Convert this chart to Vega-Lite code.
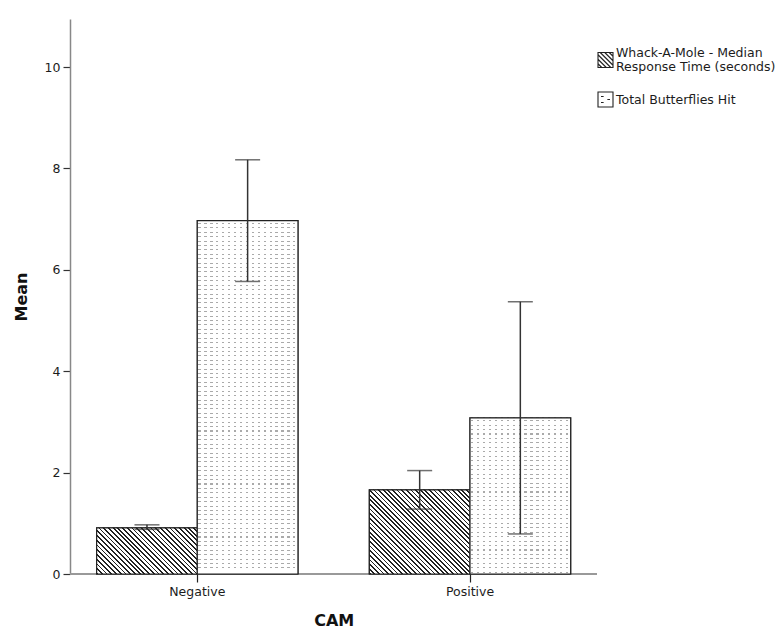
{
  "$schema": "https://vega.github.io/schema/vega-lite/v6.json",
  "width": 527,
  "height": 555,
  "autosize": "none",
  "padding": {"left": 70, "top": 19, "right": 184, "bottom": 56},
  "background": "white",
  "config": {
    "view": {"stroke": null},
    "axis": {"grid": false, "labelFont": "DejaVu Sans", "labelFontSize": 12.5, "labelColor": "#1c1c1c", "titleFont": "DejaVu Sans", "titleFontSize": 16, "titleFontWeight": "bold", "titleColor": "#111"}
  },
  "data": {"values": [
    {"CAM": "Negative", "series": "Whack-A-Mole - Median Response Time (seconds)", "mean": 0.91, "lo": 0.88, "hi": 0.97},
    {"CAM": "Negative", "series": "Total Butterflies Hit", "mean": 6.97, "lo": 5.77, "hi": 8.17},
    {"CAM": "Positive", "series": "Whack-A-Mole - Median Response Time (seconds)", "mean": 1.66, "lo": 1.28, "hi": 2.04},
    {"CAM": "Positive", "series": "Total Butterflies Hit", "mean": 3.08, "lo": 0.79, "hi": 5.37}
  ]},
  "encoding": {
    "x": {"field": "CAM", "type": "nominal", "title": "CAM",
      "scale": {"range": [-9.05, 536.35], "paddingInner": 0.2618, "paddingOuter": 0.1309},
      "axis": {"labelAngle": 0, "domain": false, "tickSize": 8, "tickColor": "#222", "tickWidth": 1.2, "labelPadding": 3, "titlePadding": 15}},
    "xOffset": {"field": "series", "type": "nominal",
      "scale": {"domain": ["Whack-A-Mole - Median Response Time (seconds)", "Total Butterflies Hit"], "paddingInner": 0, "paddingOuter": 0}}
  },
  "layer": [
    {
      "mark": {"type": "rule", "color": "#999", "strokeWidth": 1.5},
      "encoding": {"y": {"datum": 0, "type": "quantitative", "title": "Mean"}, "x": null, "xOffset": null}
    },
    {
      "mark": {"type": "bar", "stroke": "#222", "strokeWidth": 1.2, "fill": "#ffffff"},
      "encoding": {
        "y": {"field": "mean", "type": "quantitative", "title": "Mean",
          "scale": {"domain": [0, 10.947], "nice": false, "zero": true},
          "axis": {"values": [0, 2, 4, 6, 8, 10], "domainColor": "#888", "domainWidth": 1.5, "tickColor": "#333", "tickSize": 7, "tickWidth": 1.2, "labelPadding": 3, "titlePadding": 15}}
      }
    },
    {
      "transform": [{"filter": "datum.CAM == 'Negative' && datum.series != 'Total Butterflies Hit'"}],
      "mark": {"type": "bar", "stroke": "#222", "strokeWidth": 1.2,
        "fill": {"gradient": "linear", "x1": 0, "y1": 1, "x2": 1.2052, "y2": 0.4483, "stops": [
          {"offset": 0, "color": "#222"}, {"offset": 0.0123, "color": "#222"}, {"offset": 0.0123, "color": "#fff"}, {"offset": 0.0323, "color": "#fff"},
          {"offset": 0.0323, "color": "#222"}, {"offset": 0.0445, "color": "#222"}, {"offset": 0.0445, "color": "#fff"}, {"offset": 0.0645, "color": "#fff"},
          {"offset": 0.0645, "color": "#222"}, {"offset": 0.0768, "color": "#222"}, {"offset": 0.0768, "color": "#fff"}, {"offset": 0.0968, "color": "#fff"},
          {"offset": 0.0968, "color": "#222"}, {"offset": 0.109, "color": "#222"}, {"offset": 0.109, "color": "#fff"}, {"offset": 0.129, "color": "#fff"},
          {"offset": 0.129, "color": "#222"}, {"offset": 0.1413, "color": "#222"}, {"offset": 0.1413, "color": "#fff"}, {"offset": 0.1613, "color": "#fff"},
          {"offset": 0.1613, "color": "#222"}, {"offset": 0.1735, "color": "#222"}, {"offset": 0.1735, "color": "#fff"}, {"offset": 0.1935, "color": "#fff"},
          {"offset": 0.1935, "color": "#222"}, {"offset": 0.2058, "color": "#222"}, {"offset": 0.2058, "color": "#fff"}, {"offset": 0.2258, "color": "#fff"},
          {"offset": 0.2258, "color": "#222"}, {"offset": 0.2381, "color": "#222"}, {"offset": 0.2381, "color": "#fff"}, {"offset": 0.2581, "color": "#fff"},
          {"offset": 0.2581, "color": "#222"}, {"offset": 0.2703, "color": "#222"}, {"offset": 0.2703, "color": "#fff"}, {"offset": 0.2903, "color": "#fff"},
          {"offset": 0.2903, "color": "#222"}, {"offset": 0.3026, "color": "#222"}, {"offset": 0.3026, "color": "#fff"}, {"offset": 0.3226, "color": "#fff"},
          {"offset": 0.3226, "color": "#222"}, {"offset": 0.3348, "color": "#222"}, {"offset": 0.3348, "color": "#fff"}, {"offset": 0.3548, "color": "#fff"},
          {"offset": 0.3548, "color": "#222"}, {"offset": 0.3671, "color": "#222"}, {"offset": 0.3671, "color": "#fff"}, {"offset": 0.3871, "color": "#fff"},
          {"offset": 0.3871, "color": "#222"}, {"offset": 0.3994, "color": "#222"}, {"offset": 0.3994, "color": "#fff"}, {"offset": 0.4194, "color": "#fff"},
          {"offset": 0.4194, "color": "#222"}, {"offset": 0.4316, "color": "#222"}, {"offset": 0.4316, "color": "#fff"}, {"offset": 0.4516, "color": "#fff"},
          {"offset": 0.4516, "color": "#222"}, {"offset": 0.4639, "color": "#222"}, {"offset": 0.4639, "color": "#fff"}, {"offset": 0.4839, "color": "#fff"},
          {"offset": 0.4839, "color": "#222"}, {"offset": 0.4961, "color": "#222"}, {"offset": 0.4961, "color": "#fff"}, {"offset": 0.5161, "color": "#fff"},
          {"offset": 0.5161, "color": "#222"}, {"offset": 0.5284, "color": "#222"}, {"offset": 0.5284, "color": "#fff"}, {"offset": 0.5484, "color": "#fff"},
          {"offset": 0.5484, "color": "#222"}, {"offset": 0.5606, "color": "#222"}, {"offset": 0.5606, "color": "#fff"}, {"offset": 0.5806, "color": "#fff"},
          {"offset": 0.5806, "color": "#222"}, {"offset": 0.5929, "color": "#222"}, {"offset": 0.5929, "color": "#fff"}, {"offset": 0.6129, "color": "#fff"},
          {"offset": 0.6129, "color": "#222"}, {"offset": 0.6252, "color": "#222"}, {"offset": 0.6252, "color": "#fff"}, {"offset": 0.6452, "color": "#fff"},
          {"offset": 0.6452, "color": "#222"}, {"offset": 0.6574, "color": "#222"}, {"offset": 0.6574, "color": "#fff"}, {"offset": 0.6774, "color": "#fff"},
          {"offset": 0.6774, "color": "#222"}, {"offset": 0.6897, "color": "#222"}, {"offset": 0.6897, "color": "#fff"}, {"offset": 0.7097, "color": "#fff"},
          {"offset": 0.7097, "color": "#222"}, {"offset": 0.7219, "color": "#222"}, {"offset": 0.7219, "color": "#fff"}, {"offset": 0.7419, "color": "#fff"},
          {"offset": 0.7419, "color": "#222"}, {"offset": 0.7542, "color": "#222"}, {"offset": 0.7542, "color": "#fff"}, {"offset": 0.7742, "color": "#fff"},
          {"offset": 0.7742, "color": "#222"}, {"offset": 0.7865, "color": "#222"}, {"offset": 0.7865, "color": "#fff"}, {"offset": 0.8065, "color": "#fff"},
          {"offset": 0.8065, "color": "#222"}, {"offset": 0.8187, "color": "#222"}, {"offset": 0.8187, "color": "#fff"}, {"offset": 0.8387, "color": "#fff"},
          {"offset": 0.8387, "color": "#222"}, {"offset": 0.851, "color": "#222"}, {"offset": 0.851, "color": "#fff"}, {"offset": 0.871, "color": "#fff"},
          {"offset": 0.871, "color": "#222"}, {"offset": 0.8832, "color": "#222"}, {"offset": 0.8832, "color": "#fff"}, {"offset": 0.9032, "color": "#fff"},
          {"offset": 0.9032, "color": "#222"}, {"offset": 0.9155, "color": "#222"}, {"offset": 0.9155, "color": "#fff"}, {"offset": 0.9355, "color": "#fff"},
          {"offset": 0.9355, "color": "#222"}, {"offset": 0.9477, "color": "#222"}, {"offset": 0.9477, "color": "#fff"}, {"offset": 0.9677, "color": "#fff"},
          {"offset": 0.9677, "color": "#222"}, {"offset": 0.98, "color": "#222"}, {"offset": 0.98, "color": "#fff"}, {"offset": 1, "color": "#fff"}
        ]}},
      "encoding": {"y": {"field": "mean", "type": "quantitative", "title": "Mean"}}
    },
    {
      "transform": [{"filter": "datum.CAM == 'Positive' && datum.series != 'Total Butterflies Hit'"}],
      "mark": {"type": "bar", "stroke": "#222", "strokeWidth": 1.2,
        "fill": {"gradient": "linear", "x1": 0, "y1": 1, "x2": 1.0806, "y2": 0.0966, "stops": [
          {"offset": 0, "color": "#222"}, {"offset": 0.0095, "color": "#222"}, {"offset": 0.0095, "color": "#fff"}, {"offset": 0.025, "color": "#fff"},
          {"offset": 0.025, "color": "#222"}, {"offset": 0.0345, "color": "#222"}, {"offset": 0.0345, "color": "#fff"}, {"offset": 0.05, "color": "#fff"},
          {"offset": 0.05, "color": "#222"}, {"offset": 0.0595, "color": "#222"}, {"offset": 0.0595, "color": "#fff"}, {"offset": 0.075, "color": "#fff"},
          {"offset": 0.075, "color": "#222"}, {"offset": 0.0845, "color": "#222"}, {"offset": 0.0845, "color": "#fff"}, {"offset": 0.1, "color": "#fff"},
          {"offset": 0.1, "color": "#222"}, {"offset": 0.1095, "color": "#222"}, {"offset": 0.1095, "color": "#fff"}, {"offset": 0.125, "color": "#fff"},
          {"offset": 0.125, "color": "#222"}, {"offset": 0.1345, "color": "#222"}, {"offset": 0.1345, "color": "#fff"}, {"offset": 0.15, "color": "#fff"},
          {"offset": 0.15, "color": "#222"}, {"offset": 0.1595, "color": "#222"}, {"offset": 0.1595, "color": "#fff"}, {"offset": 0.175, "color": "#fff"},
          {"offset": 0.175, "color": "#222"}, {"offset": 0.1845, "color": "#222"}, {"offset": 0.1845, "color": "#fff"}, {"offset": 0.2, "color": "#fff"},
          {"offset": 0.2, "color": "#222"}, {"offset": 0.2095, "color": "#222"}, {"offset": 0.2095, "color": "#fff"}, {"offset": 0.225, "color": "#fff"},
          {"offset": 0.225, "color": "#222"}, {"offset": 0.2345, "color": "#222"}, {"offset": 0.2345, "color": "#fff"}, {"offset": 0.25, "color": "#fff"},
          {"offset": 0.25, "color": "#222"}, {"offset": 0.2595, "color": "#222"}, {"offset": 0.2595, "color": "#fff"}, {"offset": 0.275, "color": "#fff"},
          {"offset": 0.275, "color": "#222"}, {"offset": 0.2845, "color": "#222"}, {"offset": 0.2845, "color": "#fff"}, {"offset": 0.3, "color": "#fff"},
          {"offset": 0.3, "color": "#222"}, {"offset": 0.3095, "color": "#222"}, {"offset": 0.3095, "color": "#fff"}, {"offset": 0.325, "color": "#fff"},
          {"offset": 0.325, "color": "#222"}, {"offset": 0.3345, "color": "#222"}, {"offset": 0.3345, "color": "#fff"}, {"offset": 0.35, "color": "#fff"},
          {"offset": 0.35, "color": "#222"}, {"offset": 0.3595, "color": "#222"}, {"offset": 0.3595, "color": "#fff"}, {"offset": 0.375, "color": "#fff"},
          {"offset": 0.375, "color": "#222"}, {"offset": 0.3845, "color": "#222"}, {"offset": 0.3845, "color": "#fff"}, {"offset": 0.4, "color": "#fff"},
          {"offset": 0.4, "color": "#222"}, {"offset": 0.4095, "color": "#222"}, {"offset": 0.4095, "color": "#fff"}, {"offset": 0.425, "color": "#fff"},
          {"offset": 0.425, "color": "#222"}, {"offset": 0.4345, "color": "#222"}, {"offset": 0.4345, "color": "#fff"}, {"offset": 0.45, "color": "#fff"},
          {"offset": 0.45, "color": "#222"}, {"offset": 0.4595, "color": "#222"}, {"offset": 0.4595, "color": "#fff"}, {"offset": 0.475, "color": "#fff"},
          {"offset": 0.475, "color": "#222"}, {"offset": 0.4845, "color": "#222"}, {"offset": 0.4845, "color": "#fff"}, {"offset": 0.5, "color": "#fff"},
          {"offset": 0.5, "color": "#222"}, {"offset": 0.5095, "color": "#222"}, {"offset": 0.5095, "color": "#fff"}, {"offset": 0.525, "color": "#fff"},
          {"offset": 0.525, "color": "#222"}, {"offset": 0.5345, "color": "#222"}, {"offset": 0.5345, "color": "#fff"}, {"offset": 0.55, "color": "#fff"},
          {"offset": 0.55, "color": "#222"}, {"offset": 0.5595, "color": "#222"}, {"offset": 0.5595, "color": "#fff"}, {"offset": 0.575, "color": "#fff"},
          {"offset": 0.575, "color": "#222"}, {"offset": 0.5845, "color": "#222"}, {"offset": 0.5845, "color": "#fff"}, {"offset": 0.6, "color": "#fff"},
          {"offset": 0.6, "color": "#222"}, {"offset": 0.6095, "color": "#222"}, {"offset": 0.6095, "color": "#fff"}, {"offset": 0.625, "color": "#fff"},
          {"offset": 0.625, "color": "#222"}, {"offset": 0.6345, "color": "#222"}, {"offset": 0.6345, "color": "#fff"}, {"offset": 0.65, "color": "#fff"},
          {"offset": 0.65, "color": "#222"}, {"offset": 0.6595, "color": "#222"}, {"offset": 0.6595, "color": "#fff"}, {"offset": 0.675, "color": "#fff"},
          {"offset": 0.675, "color": "#222"}, {"offset": 0.6845, "color": "#222"}, {"offset": 0.6845, "color": "#fff"}, {"offset": 0.7, "color": "#fff"},
          {"offset": 0.7, "color": "#222"}, {"offset": 0.7095, "color": "#222"}, {"offset": 0.7095, "color": "#fff"}, {"offset": 0.725, "color": "#fff"},
          {"offset": 0.725, "color": "#222"}, {"offset": 0.7345, "color": "#222"}, {"offset": 0.7345, "color": "#fff"}, {"offset": 0.75, "color": "#fff"},
          {"offset": 0.75, "color": "#222"}, {"offset": 0.7595, "color": "#222"}, {"offset": 0.7595, "color": "#fff"}, {"offset": 0.775, "color": "#fff"},
          {"offset": 0.775, "color": "#222"}, {"offset": 0.7845, "color": "#222"}, {"offset": 0.7845, "color": "#fff"}, {"offset": 0.8, "color": "#fff"},
          {"offset": 0.8, "color": "#222"}, {"offset": 0.8095, "color": "#222"}, {"offset": 0.8095, "color": "#fff"}, {"offset": 0.825, "color": "#fff"},
          {"offset": 0.825, "color": "#222"}, {"offset": 0.8345, "color": "#222"}, {"offset": 0.8345, "color": "#fff"}, {"offset": 0.85, "color": "#fff"},
          {"offset": 0.85, "color": "#222"}, {"offset": 0.8595, "color": "#222"}, {"offset": 0.8595, "color": "#fff"}, {"offset": 0.875, "color": "#fff"},
          {"offset": 0.875, "color": "#222"}, {"offset": 0.8845, "color": "#222"}, {"offset": 0.8845, "color": "#fff"}, {"offset": 0.9, "color": "#fff"},
          {"offset": 0.9, "color": "#222"}, {"offset": 0.9095, "color": "#222"}, {"offset": 0.9095, "color": "#fff"}, {"offset": 0.925, "color": "#fff"},
          {"offset": 0.925, "color": "#222"}, {"offset": 0.9345, "color": "#222"}, {"offset": 0.9345, "color": "#fff"}, {"offset": 0.95, "color": "#fff"},
          {"offset": 0.95, "color": "#222"}, {"offset": 0.9595, "color": "#222"}, {"offset": 0.9595, "color": "#fff"}, {"offset": 0.975, "color": "#fff"},
          {"offset": 0.975, "color": "#222"}, {"offset": 0.9845, "color": "#222"}, {"offset": 0.9845, "color": "#fff"}, {"offset": 1, "color": "#fff"}
        ]}},
      "encoding": {"y": {"field": "mean", "type": "quantitative", "title": "Mean"}}
    },
    {
      "transform": [{"filter": "datum.CAM == 'Negative' && datum.series == 'Total Butterflies Hit'"}],
      "mark": {"type": "bar",
        "fill": {"gradient": "linear", "x1": 0, "y1": 0, "x2": 0, "y2": 1, "stops": [
          {"offset":0.00625,"color":"#fff"},{"offset":0.00625,"color":"#aaa"},{"offset":0.00925,"color":"#aaa"},{"offset":0.00925,"color":"#fff"},
          {"offset":0.01875,"color":"#fff"},{"offset":0.01875,"color":"#aaa"},{"offset":0.02175,"color":"#aaa"},{"offset":0.02175,"color":"#fff"},
          {"offset":0.03125,"color":"#fff"},{"offset":0.03125,"color":"#aaa"},{"offset":0.03425,"color":"#aaa"},{"offset":0.03425,"color":"#fff"},
          {"offset":0.04375,"color":"#fff"},{"offset":0.04375,"color":"#aaa"},{"offset":0.04675,"color":"#aaa"},{"offset":0.04675,"color":"#fff"},
          {"offset":0.05625,"color":"#fff"},{"offset":0.05625,"color":"#aaa"},{"offset":0.05925,"color":"#aaa"},{"offset":0.05925,"color":"#fff"},
          {"offset":0.06875,"color":"#fff"},{"offset":0.06875,"color":"#aaa"},{"offset":0.07175,"color":"#aaa"},{"offset":0.07175,"color":"#fff"},
          {"offset":0.08125,"color":"#fff"},{"offset":0.08125,"color":"#aaa"},{"offset":0.08425,"color":"#aaa"},{"offset":0.08425,"color":"#fff"},
          {"offset":0.09375,"color":"#fff"},{"offset":0.09375,"color":"#aaa"},{"offset":0.09675,"color":"#aaa"},{"offset":0.09675,"color":"#fff"},
          {"offset":0.10625,"color":"#fff"},{"offset":0.10625,"color":"#aaa"},{"offset":0.10925,"color":"#aaa"},{"offset":0.10925,"color":"#fff"},
          {"offset":0.11875,"color":"#fff"},{"offset":0.11875,"color":"#aaa"},{"offset":0.12175,"color":"#aaa"},{"offset":0.12175,"color":"#fff"},
          {"offset":0.13125,"color":"#fff"},{"offset":0.13125,"color":"#aaa"},{"offset":0.13425,"color":"#aaa"},{"offset":0.13425,"color":"#fff"},
          {"offset":0.14375,"color":"#fff"},{"offset":0.14375,"color":"#aaa"},{"offset":0.14675,"color":"#aaa"},{"offset":0.14675,"color":"#fff"},
          {"offset":0.15625,"color":"#fff"},{"offset":0.15625,"color":"#aaa"},{"offset":0.15925,"color":"#aaa"},{"offset":0.15925,"color":"#fff"},
          {"offset":0.16875,"color":"#fff"},{"offset":0.16875,"color":"#aaa"},{"offset":0.17175,"color":"#aaa"},{"offset":0.17175,"color":"#fff"},
          {"offset":0.18125,"color":"#fff"},{"offset":0.18125,"color":"#aaa"},{"offset":0.18425,"color":"#aaa"},{"offset":0.18425,"color":"#fff"},
          {"offset":0.19375,"color":"#fff"},{"offset":0.19375,"color":"#aaa"},{"offset":0.19675,"color":"#aaa"},{"offset":0.19675,"color":"#fff"},
          {"offset":0.20625,"color":"#fff"},{"offset":0.20625,"color":"#aaa"},{"offset":0.20925,"color":"#aaa"},{"offset":0.20925,"color":"#fff"},
          {"offset":0.21875,"color":"#fff"},{"offset":0.21875,"color":"#aaa"},{"offset":0.22175,"color":"#aaa"},{"offset":0.22175,"color":"#fff"},
          {"offset":0.23125,"color":"#fff"},{"offset":0.23125,"color":"#aaa"},{"offset":0.23425,"color":"#aaa"},{"offset":0.23425,"color":"#fff"},
          {"offset":0.24375,"color":"#fff"},{"offset":0.24375,"color":"#aaa"},{"offset":0.24675,"color":"#aaa"},{"offset":0.24675,"color":"#fff"},
          {"offset":0.25625,"color":"#fff"},{"offset":0.25625,"color":"#aaa"},{"offset":0.25925,"color":"#aaa"},{"offset":0.25925,"color":"#fff"},
          {"offset":0.26875,"color":"#fff"},{"offset":0.26875,"color":"#aaa"},{"offset":0.27175,"color":"#aaa"},{"offset":0.27175,"color":"#fff"},
          {"offset":0.28125,"color":"#fff"},{"offset":0.28125,"color":"#aaa"},{"offset":0.28425,"color":"#aaa"},{"offset":0.28425,"color":"#fff"},
          {"offset":0.29375,"color":"#fff"},{"offset":0.29375,"color":"#aaa"},{"offset":0.29675,"color":"#aaa"},{"offset":0.29675,"color":"#fff"},
          {"offset":0.30625,"color":"#fff"},{"offset":0.30625,"color":"#aaa"},{"offset":0.30925,"color":"#aaa"},{"offset":0.30925,"color":"#fff"},
          {"offset":0.31875,"color":"#fff"},{"offset":0.31875,"color":"#aaa"},{"offset":0.32175,"color":"#aaa"},{"offset":0.32175,"color":"#fff"},
          {"offset":0.33125,"color":"#fff"},{"offset":0.33125,"color":"#aaa"},{"offset":0.33425,"color":"#aaa"},{"offset":0.33425,"color":"#fff"},
          {"offset":0.34375,"color":"#fff"},{"offset":0.34375,"color":"#aaa"},{"offset":0.34675,"color":"#aaa"},{"offset":0.34675,"color":"#fff"},
          {"offset":0.35625,"color":"#fff"},{"offset":0.35625,"color":"#aaa"},{"offset":0.35925,"color":"#aaa"},{"offset":0.35925,"color":"#fff"},
          {"offset":0.36875,"color":"#fff"},{"offset":0.36875,"color":"#aaa"},{"offset":0.37175,"color":"#aaa"},{"offset":0.37175,"color":"#fff"},
          {"offset":0.38125,"color":"#fff"},{"offset":0.38125,"color":"#aaa"},{"offset":0.38425,"color":"#aaa"},{"offset":0.38425,"color":"#fff"},
          {"offset":0.39375,"color":"#fff"},{"offset":0.39375,"color":"#aaa"},{"offset":0.39675,"color":"#aaa"},{"offset":0.39675,"color":"#fff"},
          {"offset":0.40625,"color":"#fff"},{"offset":0.40625,"color":"#aaa"},{"offset":0.40925,"color":"#aaa"},{"offset":0.40925,"color":"#fff"},
          {"offset":0.41875,"color":"#fff"},{"offset":0.41875,"color":"#aaa"},{"offset":0.42175,"color":"#aaa"},{"offset":0.42175,"color":"#fff"},
          {"offset":0.43125,"color":"#fff"},{"offset":0.43125,"color":"#aaa"},{"offset":0.43425,"color":"#aaa"},{"offset":0.43425,"color":"#fff"},
          {"offset":0.44375,"color":"#fff"},{"offset":0.44375,"color":"#aaa"},{"offset":0.44675,"color":"#aaa"},{"offset":0.44675,"color":"#fff"},
          {"offset":0.45625,"color":"#fff"},{"offset":0.45625,"color":"#aaa"},{"offset":0.45925,"color":"#aaa"},{"offset":0.45925,"color":"#fff"},
          {"offset":0.46875,"color":"#fff"},{"offset":0.46875,"color":"#aaa"},{"offset":0.47175,"color":"#aaa"},{"offset":0.47175,"color":"#fff"},
          {"offset":0.48125,"color":"#fff"},{"offset":0.48125,"color":"#aaa"},{"offset":0.48425,"color":"#aaa"},{"offset":0.48425,"color":"#fff"},
          {"offset":0.49375,"color":"#fff"},{"offset":0.49375,"color":"#aaa"},{"offset":0.49675,"color":"#aaa"},{"offset":0.49675,"color":"#fff"},
          {"offset":0.50625,"color":"#fff"},{"offset":0.50625,"color":"#aaa"},{"offset":0.50925,"color":"#aaa"},{"offset":0.50925,"color":"#fff"},
          {"offset":0.51875,"color":"#fff"},{"offset":0.51875,"color":"#aaa"},{"offset":0.52175,"color":"#aaa"},{"offset":0.52175,"color":"#fff"},
          {"offset":0.53125,"color":"#fff"},{"offset":0.53125,"color":"#aaa"},{"offset":0.53425,"color":"#aaa"},{"offset":0.53425,"color":"#fff"},
          {"offset":0.54375,"color":"#fff"},{"offset":0.54375,"color":"#aaa"},{"offset":0.54675,"color":"#aaa"},{"offset":0.54675,"color":"#fff"},
          {"offset":0.55625,"color":"#fff"},{"offset":0.55625,"color":"#aaa"},{"offset":0.55925,"color":"#aaa"},{"offset":0.55925,"color":"#fff"},
          {"offset":0.56875,"color":"#fff"},{"offset":0.56875,"color":"#aaa"},{"offset":0.57175,"color":"#aaa"},{"offset":0.57175,"color":"#fff"},
          {"offset":0.58125,"color":"#fff"},{"offset":0.58125,"color":"#aaa"},{"offset":0.58425,"color":"#aaa"},{"offset":0.58425,"color":"#fff"},
          {"offset":0.59375,"color":"#fff"},{"offset":0.59375,"color":"#aaa"},{"offset":0.59675,"color":"#aaa"},{"offset":0.59675,"color":"#fff"},
          {"offset":0.60625,"color":"#fff"},{"offset":0.60625,"color":"#aaa"},{"offset":0.60925,"color":"#aaa"},{"offset":0.60925,"color":"#fff"},
          {"offset":0.61875,"color":"#fff"},{"offset":0.61875,"color":"#aaa"},{"offset":0.62175,"color":"#aaa"},{"offset":0.62175,"color":"#fff"},
          {"offset":0.63125,"color":"#fff"},{"offset":0.63125,"color":"#aaa"},{"offset":0.63425,"color":"#aaa"},{"offset":0.63425,"color":"#fff"},
          {"offset":0.64375,"color":"#fff"},{"offset":0.64375,"color":"#aaa"},{"offset":0.64675,"color":"#aaa"},{"offset":0.64675,"color":"#fff"},
          {"offset":0.65625,"color":"#fff"},{"offset":0.65625,"color":"#aaa"},{"offset":0.65925,"color":"#aaa"},{"offset":0.65925,"color":"#fff"},
          {"offset":0.66875,"color":"#fff"},{"offset":0.66875,"color":"#aaa"},{"offset":0.67175,"color":"#aaa"},{"offset":0.67175,"color":"#fff"},
          {"offset":0.68125,"color":"#fff"},{"offset":0.68125,"color":"#aaa"},{"offset":0.68425,"color":"#aaa"},{"offset":0.68425,"color":"#fff"},
          {"offset":0.69375,"color":"#fff"},{"offset":0.69375,"color":"#aaa"},{"offset":0.69675,"color":"#aaa"},{"offset":0.69675,"color":"#fff"},
          {"offset":0.70625,"color":"#fff"},{"offset":0.70625,"color":"#aaa"},{"offset":0.70925,"color":"#aaa"},{"offset":0.70925,"color":"#fff"},
          {"offset":0.71875,"color":"#fff"},{"offset":0.71875,"color":"#aaa"},{"offset":0.72175,"color":"#aaa"},{"offset":0.72175,"color":"#fff"},
          {"offset":0.73125,"color":"#fff"},{"offset":0.73125,"color":"#aaa"},{"offset":0.73425,"color":"#aaa"},{"offset":0.73425,"color":"#fff"},
          {"offset":0.74375,"color":"#fff"},{"offset":0.74375,"color":"#aaa"},{"offset":0.74675,"color":"#aaa"},{"offset":0.74675,"color":"#fff"},
          {"offset":0.75625,"color":"#fff"},{"offset":0.75625,"color":"#aaa"},{"offset":0.75925,"color":"#aaa"},{"offset":0.75925,"color":"#fff"},
          {"offset":0.76875,"color":"#fff"},{"offset":0.76875,"color":"#aaa"},{"offset":0.77175,"color":"#aaa"},{"offset":0.77175,"color":"#fff"},
          {"offset":0.78125,"color":"#fff"},{"offset":0.78125,"color":"#aaa"},{"offset":0.78425,"color":"#aaa"},{"offset":0.78425,"color":"#fff"},
          {"offset":0.79375,"color":"#fff"},{"offset":0.79375,"color":"#aaa"},{"offset":0.79675,"color":"#aaa"},{"offset":0.79675,"color":"#fff"},
          {"offset":0.80625,"color":"#fff"},{"offset":0.80625,"color":"#aaa"},{"offset":0.80925,"color":"#aaa"},{"offset":0.80925,"color":"#fff"},
          {"offset":0.81875,"color":"#fff"},{"offset":0.81875,"color":"#aaa"},{"offset":0.82175,"color":"#aaa"},{"offset":0.82175,"color":"#fff"},
          {"offset":0.83125,"color":"#fff"},{"offset":0.83125,"color":"#aaa"},{"offset":0.83425,"color":"#aaa"},{"offset":0.83425,"color":"#fff"},
          {"offset":0.84375,"color":"#fff"},{"offset":0.84375,"color":"#aaa"},{"offset":0.84675,"color":"#aaa"},{"offset":0.84675,"color":"#fff"},
          {"offset":0.85625,"color":"#fff"},{"offset":0.85625,"color":"#aaa"},{"offset":0.85925,"color":"#aaa"},{"offset":0.85925,"color":"#fff"},
          {"offset":0.86875,"color":"#fff"},{"offset":0.86875,"color":"#aaa"},{"offset":0.87175,"color":"#aaa"},{"offset":0.87175,"color":"#fff"},
          {"offset":0.88125,"color":"#fff"},{"offset":0.88125,"color":"#aaa"},{"offset":0.88425,"color":"#aaa"},{"offset":0.88425,"color":"#fff"},
          {"offset":0.89375,"color":"#fff"},{"offset":0.89375,"color":"#aaa"},{"offset":0.89675,"color":"#aaa"},{"offset":0.89675,"color":"#fff"},
          {"offset":0.90625,"color":"#fff"},{"offset":0.90625,"color":"#aaa"},{"offset":0.90925,"color":"#aaa"},{"offset":0.90925,"color":"#fff"},
          {"offset":0.91875,"color":"#fff"},{"offset":0.91875,"color":"#aaa"},{"offset":0.92175,"color":"#aaa"},{"offset":0.92175,"color":"#fff"},
          {"offset":0.93125,"color":"#fff"},{"offset":0.93125,"color":"#aaa"},{"offset":0.93425,"color":"#aaa"},{"offset":0.93425,"color":"#fff"},
          {"offset":0.94375,"color":"#fff"},{"offset":0.94375,"color":"#aaa"},{"offset":0.94675,"color":"#aaa"},{"offset":0.94675,"color":"#fff"},
          {"offset":0.95625,"color":"#fff"},{"offset":0.95625,"color":"#aaa"},{"offset":0.95925,"color":"#aaa"},{"offset":0.95925,"color":"#fff"},
          {"offset":0.96875,"color":"#fff"},{"offset":0.96875,"color":"#aaa"},{"offset":0.97175,"color":"#aaa"},{"offset":0.97175,"color":"#fff"},
          {"offset":0.98125,"color":"#fff"},{"offset":0.98125,"color":"#aaa"},{"offset":0.98425,"color":"#aaa"},{"offset":0.98425,"color":"#fff"}
        ]}},
      "encoding": {"y": {"field": "mean", "type": "quantitative", "title": "Mean"}}
    },
    {
      "transform": [{"filter": "datum.CAM == 'Positive' && datum.series == 'Total Butterflies Hit'"}],
      "mark": {"type": "bar",
        "fill": {"gradient": "linear", "x1": 0, "y1": 0, "x2": 0, "y2": 1, "stops": [
          {"offset":0.0143,"color":"#fff"},{"offset":0.0143,"color":"#aaa"},{"offset":0.0213,"color":"#aaa"},{"offset":0.0213,"color":"#fff"},
          {"offset":0.0429,"color":"#fff"},{"offset":0.0429,"color":"#aaa"},{"offset":0.0499,"color":"#aaa"},{"offset":0.0499,"color":"#fff"},
          {"offset":0.0714,"color":"#fff"},{"offset":0.0714,"color":"#aaa"},{"offset":0.0784,"color":"#aaa"},{"offset":0.0784,"color":"#fff"},
          {"offset":0.1,"color":"#fff"},{"offset":0.1,"color":"#aaa"},{"offset":0.107,"color":"#aaa"},{"offset":0.107,"color":"#fff"},
          {"offset":0.1286,"color":"#fff"},{"offset":0.1286,"color":"#aaa"},{"offset":0.1356,"color":"#aaa"},{"offset":0.1356,"color":"#fff"},
          {"offset":0.1571,"color":"#fff"},{"offset":0.1571,"color":"#aaa"},{"offset":0.1641,"color":"#aaa"},{"offset":0.1641,"color":"#fff"},
          {"offset":0.1857,"color":"#fff"},{"offset":0.1857,"color":"#aaa"},{"offset":0.1927,"color":"#aaa"},{"offset":0.1927,"color":"#fff"},
          {"offset":0.2143,"color":"#fff"},{"offset":0.2143,"color":"#aaa"},{"offset":0.2213,"color":"#aaa"},{"offset":0.2213,"color":"#fff"},
          {"offset":0.2429,"color":"#fff"},{"offset":0.2429,"color":"#aaa"},{"offset":0.2499,"color":"#aaa"},{"offset":0.2499,"color":"#fff"},
          {"offset":0.2714,"color":"#fff"},{"offset":0.2714,"color":"#aaa"},{"offset":0.2784,"color":"#aaa"},{"offset":0.2784,"color":"#fff"},
          {"offset":0.3,"color":"#fff"},{"offset":0.3,"color":"#aaa"},{"offset":0.307,"color":"#aaa"},{"offset":0.307,"color":"#fff"},
          {"offset":0.3286,"color":"#fff"},{"offset":0.3286,"color":"#aaa"},{"offset":0.3356,"color":"#aaa"},{"offset":0.3356,"color":"#fff"},
          {"offset":0.3571,"color":"#fff"},{"offset":0.3571,"color":"#aaa"},{"offset":0.3641,"color":"#aaa"},{"offset":0.3641,"color":"#fff"},
          {"offset":0.3857,"color":"#fff"},{"offset":0.3857,"color":"#aaa"},{"offset":0.3927,"color":"#aaa"},{"offset":0.3927,"color":"#fff"},
          {"offset":0.4143,"color":"#fff"},{"offset":0.4143,"color":"#aaa"},{"offset":0.4213,"color":"#aaa"},{"offset":0.4213,"color":"#fff"},
          {"offset":0.4429,"color":"#fff"},{"offset":0.4429,"color":"#aaa"},{"offset":0.4499,"color":"#aaa"},{"offset":0.4499,"color":"#fff"},
          {"offset":0.4714,"color":"#fff"},{"offset":0.4714,"color":"#aaa"},{"offset":0.4784,"color":"#aaa"},{"offset":0.4784,"color":"#fff"},
          {"offset":0.5,"color":"#fff"},{"offset":0.5,"color":"#aaa"},{"offset":0.507,"color":"#aaa"},{"offset":0.507,"color":"#fff"},
          {"offset":0.5286,"color":"#fff"},{"offset":0.5286,"color":"#aaa"},{"offset":0.5356,"color":"#aaa"},{"offset":0.5356,"color":"#fff"},
          {"offset":0.5571,"color":"#fff"},{"offset":0.5571,"color":"#aaa"},{"offset":0.5641,"color":"#aaa"},{"offset":0.5641,"color":"#fff"},
          {"offset":0.5857,"color":"#fff"},{"offset":0.5857,"color":"#aaa"},{"offset":0.5927,"color":"#aaa"},{"offset":0.5927,"color":"#fff"},
          {"offset":0.6143,"color":"#fff"},{"offset":0.6143,"color":"#aaa"},{"offset":0.6213,"color":"#aaa"},{"offset":0.6213,"color":"#fff"},
          {"offset":0.6429,"color":"#fff"},{"offset":0.6429,"color":"#aaa"},{"offset":0.6499,"color":"#aaa"},{"offset":0.6499,"color":"#fff"},
          {"offset":0.6714,"color":"#fff"},{"offset":0.6714,"color":"#aaa"},{"offset":0.6784,"color":"#aaa"},{"offset":0.6784,"color":"#fff"},
          {"offset":0.7,"color":"#fff"},{"offset":0.7,"color":"#aaa"},{"offset":0.707,"color":"#aaa"},{"offset":0.707,"color":"#fff"},
          {"offset":0.7286,"color":"#fff"},{"offset":0.7286,"color":"#aaa"},{"offset":0.7356,"color":"#aaa"},{"offset":0.7356,"color":"#fff"},
          {"offset":0.7571,"color":"#fff"},{"offset":0.7571,"color":"#aaa"},{"offset":0.7641,"color":"#aaa"},{"offset":0.7641,"color":"#fff"},
          {"offset":0.7857,"color":"#fff"},{"offset":0.7857,"color":"#aaa"},{"offset":0.7927,"color":"#aaa"},{"offset":0.7927,"color":"#fff"},
          {"offset":0.8143,"color":"#fff"},{"offset":0.8143,"color":"#aaa"},{"offset":0.8213,"color":"#aaa"},{"offset":0.8213,"color":"#fff"},
          {"offset":0.8429,"color":"#fff"},{"offset":0.8429,"color":"#aaa"},{"offset":0.8499,"color":"#aaa"},{"offset":0.8499,"color":"#fff"},
          {"offset":0.8714,"color":"#fff"},{"offset":0.8714,"color":"#aaa"},{"offset":0.8784,"color":"#aaa"},{"offset":0.8784,"color":"#fff"},
          {"offset":0.9,"color":"#fff"},{"offset":0.9,"color":"#aaa"},{"offset":0.907,"color":"#aaa"},{"offset":0.907,"color":"#fff"},
          {"offset":0.9286,"color":"#fff"},{"offset":0.9286,"color":"#aaa"},{"offset":0.9356,"color":"#aaa"},{"offset":0.9356,"color":"#fff"},
          {"offset":0.9571,"color":"#fff"},{"offset":0.9571,"color":"#aaa"},{"offset":0.9641,"color":"#aaa"},{"offset":0.9641,"color":"#fff"},
          {"offset":0.9857,"color":"#fff"},{"offset":0.9857,"color":"#aaa"},{"offset":0.9927,"color":"#aaa"},{"offset":0.9927,"color":"#fff"}
        ]}},
      "encoding": {"y": {"field": "mean", "type": "quantitative", "title": "Mean"}}
    },
    {
      "transform": [{"filter": "datum.series == 'Total Butterflies Hit'"}],
      "mark": {"type": "bar", "stroke": "#222", "strokeWidth": 1.2,
        "fill": {"gradient": "linear", "x1": 0, "y1": 0, "x2": 1, "y2": 0, "stops": [
          {"offset":0.0118,"color":"#fff"},{"offset":0.0118,"color":"#fff0"},{"offset":0.0338,"color":"#fff0"},{"offset":0.0338,"color":"#fff"},
          {"offset":0.0706,"color":"#fff"},{"offset":0.0706,"color":"#fff0"},{"offset":0.0926,"color":"#fff0"},{"offset":0.0926,"color":"#fff"},
          {"offset":0.1294,"color":"#fff"},{"offset":0.1294,"color":"#fff0"},{"offset":0.1514,"color":"#fff0"},{"offset":0.1514,"color":"#fff"},
          {"offset":0.1882,"color":"#fff"},{"offset":0.1882,"color":"#fff0"},{"offset":0.2102,"color":"#fff0"},{"offset":0.2102,"color":"#fff"},
          {"offset":0.2471,"color":"#fff"},{"offset":0.2471,"color":"#fff0"},{"offset":0.2691,"color":"#fff0"},{"offset":0.2691,"color":"#fff"},
          {"offset":0.3059,"color":"#fff"},{"offset":0.3059,"color":"#fff0"},{"offset":0.3279,"color":"#fff0"},{"offset":0.3279,"color":"#fff"},
          {"offset":0.3647,"color":"#fff"},{"offset":0.3647,"color":"#fff0"},{"offset":0.3867,"color":"#fff0"},{"offset":0.3867,"color":"#fff"},
          {"offset":0.4235,"color":"#fff"},{"offset":0.4235,"color":"#fff0"},{"offset":0.4455,"color":"#fff0"},{"offset":0.4455,"color":"#fff"},
          {"offset":0.4824,"color":"#fff"},{"offset":0.4824,"color":"#fff0"},{"offset":0.5044,"color":"#fff0"},{"offset":0.5044,"color":"#fff"},
          {"offset":0.5412,"color":"#fff"},{"offset":0.5412,"color":"#fff0"},{"offset":0.5632,"color":"#fff0"},{"offset":0.5632,"color":"#fff"},
          {"offset":0.6,"color":"#fff"},{"offset":0.6,"color":"#fff0"},{"offset":0.622,"color":"#fff0"},{"offset":0.622,"color":"#fff"},
          {"offset":0.6588,"color":"#fff"},{"offset":0.6588,"color":"#fff0"},{"offset":0.6808,"color":"#fff0"},{"offset":0.6808,"color":"#fff"},
          {"offset":0.7176,"color":"#fff"},{"offset":0.7176,"color":"#fff0"},{"offset":0.7396,"color":"#fff0"},{"offset":0.7396,"color":"#fff"},
          {"offset":0.7765,"color":"#fff"},{"offset":0.7765,"color":"#fff0"},{"offset":0.7985,"color":"#fff0"},{"offset":0.7985,"color":"#fff"},
          {"offset":0.8353,"color":"#fff"},{"offset":0.8353,"color":"#fff0"},{"offset":0.8573,"color":"#fff0"},{"offset":0.8573,"color":"#fff"},
          {"offset":0.8941,"color":"#fff"},{"offset":0.8941,"color":"#fff0"},{"offset":0.9161,"color":"#fff0"},{"offset":0.9161,"color":"#fff"},
          {"offset":0.9529,"color":"#fff"},{"offset":0.9529,"color":"#fff0"},{"offset":0.9749,"color":"#fff0"},{"offset":0.9749,"color":"#fff"}
        ]}},
      "encoding": {"y": {"field": "mean", "type": "quantitative", "title": "Mean"}}
    },
    {
      "mark": {"type": "rule", "color": "#333", "strokeWidth": 1.5},
      "encoding": {
        "y": {"field": "lo", "type": "quantitative", "title": "Mean"},
        "y2": {"field": "hi"}
      }
    },
    {
      "mark": {"type": "tick", "color": "#333", "size": 25, "thickness": 1.5, "orient": "horizontal"},
      "encoding": {"y": {"field": "hi", "type": "quantitative", "title": "Mean"}}
    },
    {
      "mark": {"type": "tick", "color": "#333", "size": 25, "thickness": 1.5, "orient": "horizontal"},
      "encoding": {"y": {"field": "lo", "type": "quantitative", "title": "Mean"}}
    },
    {
      "transform": [{"filter": "false"}],
      "mark": {"type": "point", "filled": false, "color": "#222", "strokeWidth": 1.1, "opacity": 1},
      "encoding": {
        "y": {"field": "mean", "type": "quantitative", "title": "Mean"},
        "shape": {"field": "series", "type": "nominal",
          "scale": {"domain": ["Whack-A-Mole - Median Response Time (seconds)", "Total Butterflies Hit"],
            "range": [
              "M-1,0H1V2H-1Z M-1,1.5L-0.5,2 M-1,0.9L0.1,2 M-1,0.3L0.7,2 M-0.7,0L1,1.7 M-0.1,0L1,1.1 M0.5,0L1,0.5",
              "M-1,-1H1V1H-1Z M-0.6,-0.4H-0.25 M-0.6,0.4H-0.25 M0.25,0H0.6"
            ]},
          "legend": {"orient": "none", "legendX": 527, "legendY": 25, "title": null,
            "labelExpr": "datum.label == 'Whack-A-Mole - Median Response Time (seconds)' ? ['Whack-A-Mole - Median', 'Response Time (seconds)'] : datum.label",
            "labelLimit": 400, "labelFont": "DejaVu Sans", "labelFontSize": 12.5, "labelColor": "#1c1c1c", "labelOffset": 2,
            "symbolSize": 225, "symbolStrokeColor": "#222", "symbolStrokeWidth": 1.1, "symbolOpacity": 1, "rowPadding": 15}}
      }
    }
  ]
}
